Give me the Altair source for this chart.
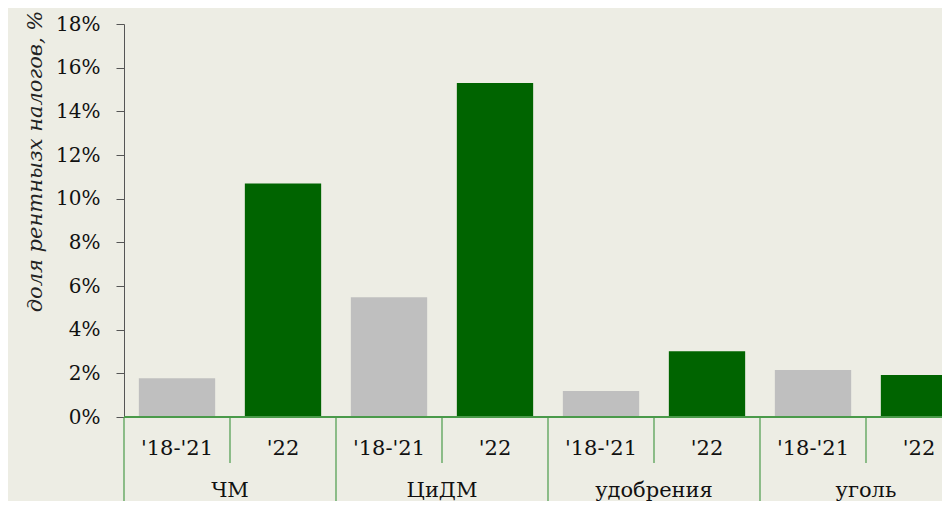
import altair as alt
import pandas as pd

groups = ["ЧМ", "ЦиДМ", "удобрения", "уголь"]
periods = ["'18-'21", "'22"]
values_1821 = [0.0178, 0.0548, 0.0119, 0.0215]
values_22 = [0.1069, 0.1530, 0.0301, 0.0192]
y_ticks = [0, 0.02, 0.04, 0.06, 0.08, 0.10, 0.12, 0.14, 0.16, 0.18]

rows = []
for g, a, b in zip(groups, values_1821, values_22):
    rows.append({"group": g, "period": periods[0], "value": a, "key": g + "|" + periods[0], "first": True})
    rows.append({"group": g, "period": periods[1], "value": b, "key": g + "|" + periods[1], "first": False})
df = pd.DataFrame(rows)
order = list(df["key"])

FONT = "DejaVu Serif"
BG = "#EDEDE4"
SEP = "#4a9a4a"
H = 393

xscale = alt.Scale(domain=order, range=[0, 848], paddingInner=0, paddingOuter=0)
yscale = alt.Scale(domain=[0, 0.18], nice=False)

base = alt.Chart(df)

bars = base.mark_bar(width=alt.RelativeBandSize(0.72)).encode(
    x=alt.X("key:N", scale=xscale, sort=order, axis=None),
    y=alt.Y(
        "value:Q",
        scale=yscale,
        axis=alt.Axis(
            values=y_ticks,
            format=".0%",
            title="доля рентнызх налогов, %",
            titleFont=FONT,
            titleFontStyle="italic",
            titleFontWeight="normal",
            titleFontSize=21,
            titleColor="#222222",
            titleAngle=270,
            titleX=-89,
            titleY=137,
            titleAlign="center",
            titleBaseline="middle",
            labelFont=FONT,
            labelFontSize=20,
            labelColor="#111111",
            labelPadding=16,
            tickSize=8,
            tickColor="#555555",
            domainColor="#555555",
            grid=False,
        ),
    ),
    color=alt.Color(
        "period:N",
        scale=alt.Scale(domain=periods, range=["#BFBFBF", "#006400"]),
        legend=None,
    ),
)

baseline = base.mark_rule(color=SEP, strokeWidth=1.2).encode(
    x=alt.value(0), x2=alt.value(848), y=alt.value(H)
)

short_sep = base.transform_filter("!datum.first").mark_rule(color=SEP, strokeWidth=1.2).encode(
    x=alt.X("key:N", scale=xscale, sort=order, bandPosition=0),
    y=alt.value(H),
    y2=alt.value(H + 46),
)

long_sep = base.transform_filter("datum.first").mark_rule(color=SEP, strokeWidth=1.2).encode(
    x=alt.X("key:N", scale=xscale, sort=order, bandPosition=0),
    y=alt.value(H),
    y2=alt.value(H + 100),
)

period_text = base.mark_text(font=FONT, fontSize=21, color="#111111", baseline="middle").encode(
    x=alt.X("key:N", scale=xscale, sort=order, bandPosition=0.5),
    y=alt.value(H + 32),
    text="period:N",
)

group_text = base.transform_filter("datum.first").mark_text(
    font=FONT, fontSize=21, color="#111111", baseline="middle"
).encode(
    x=alt.X("key:N", scale=xscale, sort=order, bandPosition=1),
    y=alt.value(H + 74),
    text="group:N",
)

chart = (
    alt.layer(bars, baseline, short_sep, long_sep, period_text, group_text)
    .properties(
        width=818,
        height=H,
        autosize=alt.AutoSizeParams(type="none"),
        padding={"left": 116, "top": 16, "right": 0, "bottom": 493 - 16 - H},
        background=BG,
    )
    .configure_view(stroke=None)
)

chart.save("out.html", embed_options={"renderer": "svg", "actions": False})
